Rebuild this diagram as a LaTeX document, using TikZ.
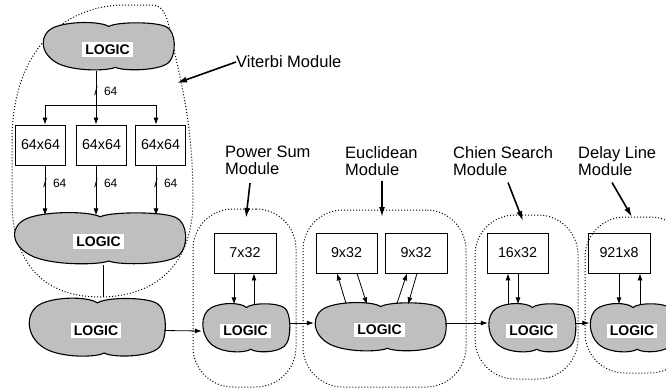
\documentclass[tikz,border=0pt]{standalone}
\usepackage{fontspec}
\setmainfont{Liberation Sans}
\usetikzlibrary{arrows.meta, calc, positioning}

\definecolor{blobgray}{gray}{0.75}

\tikzset{
  blob/.style={fill=blobgray, draw=black, line width=1.1pt},
  blobarea/.style={inner sep=0pt},
  logic/.style={fill=white, inner xsep=3pt, inner ysep=2.5pt, font=\fontsize{14}{14}\selectfont\bfseries},
  mem/.style={draw, line width=0.8pt, minimum width=50pt, minimum height=40pt, font=\fontsize{14.3}{14.3}\selectfont},
  module/.style={draw, dotted, line width=1pt, rounded corners=40pt},
  moduleline/.style={draw, dotted, line width=1pt},
  sig/.style={-{Latex[length=7pt,width=5pt]}, line width=0.8pt},
  labelarrow/.style={-{Latex[length=10pt,width=6pt]}, line width=1.6pt},
  caption/.style={font=\fontsize{16.5}{17}\selectfont, align=left, anchor=north west, inner sep=0pt},
  buswidth/.style={font=\fontsize{12}{12}\selectfont, inner sep=0pt},
  slashmark/.style={font=\fontsize{12}{12}\selectfont, inner sep=0pt}
}

% name, x, y, width, height
\newcommand{\logicblob}[5]{%
  \begin{scope}[shift={(#2,#3)}, xscale=#4/2, yscale=#5/2]
    \draw[blob] (0.02,-0.82) .. controls (-0.1,-1.02) and (-0.55,-1.05) .. (-0.8,-0.8)
      .. controls (-1.05,-0.55) and (-1.05,0.3) .. (-0.75,0.7)
      .. controls (-0.5,1.02) and (0,1.0) .. (0.12,0.85)
      .. controls (0.25,1.02) and (0.85,1.0) .. (0.95,0.6)
      .. controls (1.05,0.3) and (1.05,-0.6) .. (0.9,-0.8)
      .. controls (0.75,-1.02) and (0.15,-1.02) .. (0.02,-0.82) -- cycle;
  \end{scope}
  \node[blobarea, minimum width=#4pt, minimum height=#5pt] (#1) at (#2,#3) {};
  \node[logic] (#1t) at ($(#1)+(0,3)$) {LOGIC};
}

\begin{document}
\begin{tikzpicture}[x=1pt, y=-1pt]
\clip (0,0) rectangle (666,389);

% module outlines
\draw[moduleline] (12,140) .. controls (12,60) and (55,8) .. (120,5) -- (152,5)
  .. controls (165,5) and (168,20) .. (172,40) .. controls (180,80) and (193,120) .. (193,200)
  .. controls (193,270) and (150,297) .. (100,297) .. controls (45,297) and (12,265) .. (12,200) -- cycle;
\node[module, minimum width=103pt, minimum height=178pt] (ps) at (244.5,298) {};
\node[module, minimum width=163pt, minimum height=177pt] (eu) at (384.5,298.5) {};
\node[module, minimum width=103pt, minimum height=164pt] (ch) at (526.5,297) {};
\node[module, minimum width=105pt, minimum height=156pt] (dl) at (637.5,295) {};

% logic blocks
\logicblob{c1}{107.5}{46.5}{131}{49}
\logicblob{c2}{98.5}{238.5}{171}{53}
\logicblob{c3}{96}{327.5}{136}{60}
\logicblob{c4}{245.5}{328}{87}{50}
\logicblob{c5}{379.5}{327}{131}{50}
\logicblob{c6}{531.5}{328}{87}{50}
\logicblob{c7}{632}{328}{85}{50}

% memories
\node[mem] (v1) at (40.5,145) {64x64};
\node[mem] (v2) at (101.5,145) {64x64};
\node[mem] (v3) at (160.5,145) {64x64};
\node[mem, minimum width=62pt] (p1) at (245,253) {7x32};
\node[mem, minimum width=61pt] (e1) at (346.5,253) {9x32};
\node[mem, minimum width=62pt] (e2) at (416,253) {9x32};
\node[mem, minimum width=61pt] (k1) at (517.5,253) {16x32};
\node[mem, minimum width=62pt] (d1) at (619,253) {921x8};

% viterbi bus
\coordinate (bus) at (96,105);
\draw (c1.south -| bus) -- (bus);
\draw[sig] (bus) -- (bus |- v2.north);
\draw[sig] (bus) -| ($(v1.north)+(4.5,0)$);
\draw[sig] (bus) -| ($(v3.north)+(-4.5,0)$);
\node[slashmark] (s0) at (96,91) {/};
\node[buswidth, right=6pt of s0] (w0) {64};

\draw[sig] ($(v1.south)+(4.5,0)$) -- ($(v1.south)+(4.5,50)$);
\draw[sig] ($(v2.south)+(-5.5,0)$) -- ($(v2.south)+(-5.5,50)$);
\draw[sig] ($(v3.south)+(-4.5,0)$) -- ($(v3.south)+(-4.5,50)$);
\node[slashmark] (s1) at (45,183) {/};
\node[buswidth, right=6pt of s1] (w1) {64};
\node[slashmark] (s2) at (96,183) {/};
\node[buswidth, right=6pt of s2] (w2) {64};
\node[slashmark] (s3) at (156,183) {/};
\node[buswidth, right=6pt of s3] (w3) {64};

\draw ($(c2.south)+(5,0)$) -- ($(c3.north)+(7.5,0)$);

% memory ports
\draw[sig] ($(p1.south)+(-11,0)$) -- ($(p1.south)+(-11,31)$);
\draw[sig] ($(p1.south)+(9,31)$) -- ($(p1.south)+(9,0)$);
\draw[sig] ($(e1.south)+(-0.5,30)$) -- ($(e1.south)+(-9.5,0)$);
\draw[sig] ($(e1.south)+(10.5,0)$) -- ($(e1.south)+(20.5,31)$);
\draw[sig] ($(e2.south)+(-19,30)$) -- ($(e2.south)+(-9,0)$);
\draw[sig] ($(e2.south)+(1,0)$) -- ($(e2.south)+(-8,31)$);
\draw[sig] ($(k1.south)+(-9.5,31)$) -- ($(k1.south)+(-9.5,0)$);
\draw[sig] ($(k1.south)+(0.5,0)$) -- ($(k1.south)+(0.5,31)$);
\draw[sig] ($(d1.south)+(0,0)$) -- ($(d1.south)+(0,31)$);
\draw[sig] ($(d1.south)+(21,31)$) -- ($(d1.south)+(21,0)$);

% data path
\draw[sig] ($(c3.east)+(0,3)$) -- ($(c4.west)+(0,3)$);
\draw[sig] ($(c4.east)+(0,-5)$) -- ($(c5.west)+(0,-4)$);
\draw[sig] ($(c5.east)+(0,-4)$) -- ($(c6.west)+(0,-5)$);
\draw[sig] ($(c6.east)+(0,-5)$) -- ($(c7.west)+(0,-5)$);

% module captions
\node[caption, anchor=west] (vitl) at (236,62) {Viterbi Module};
\coordinate (vitend) at (177,83);
\draw[labelarrow] (vitl.west) -- (vitend);

\node[caption] (psl) at (225,146) {Power Sum\\Module};
\node[caption] (eul) at (345,146) {Euclidean\\Module};
\node[caption] (chl) at (453,146) {Chien Search\\Module};
\node[caption] (dll) at (578,146) {Delay Line\\Module};
\coordinate (psend) at (246,218);
\coordinate (euend) at (382,217);
\coordinate (chend) at (523,221);
\coordinate (dlend) at (632,217);
\draw[labelarrow] ($(psl.south west)+(25,8)$) -- (psend);
\draw[labelarrow] ($(eul.south west)+(37,5)$) -- (euend);
\draw[labelarrow] ($(chl.south west)+(55,7)$) -- (chend);
\draw[labelarrow] ($(dll.south west)+(34,7)$) -- (dlend);
\end{tikzpicture}
\end{document}
